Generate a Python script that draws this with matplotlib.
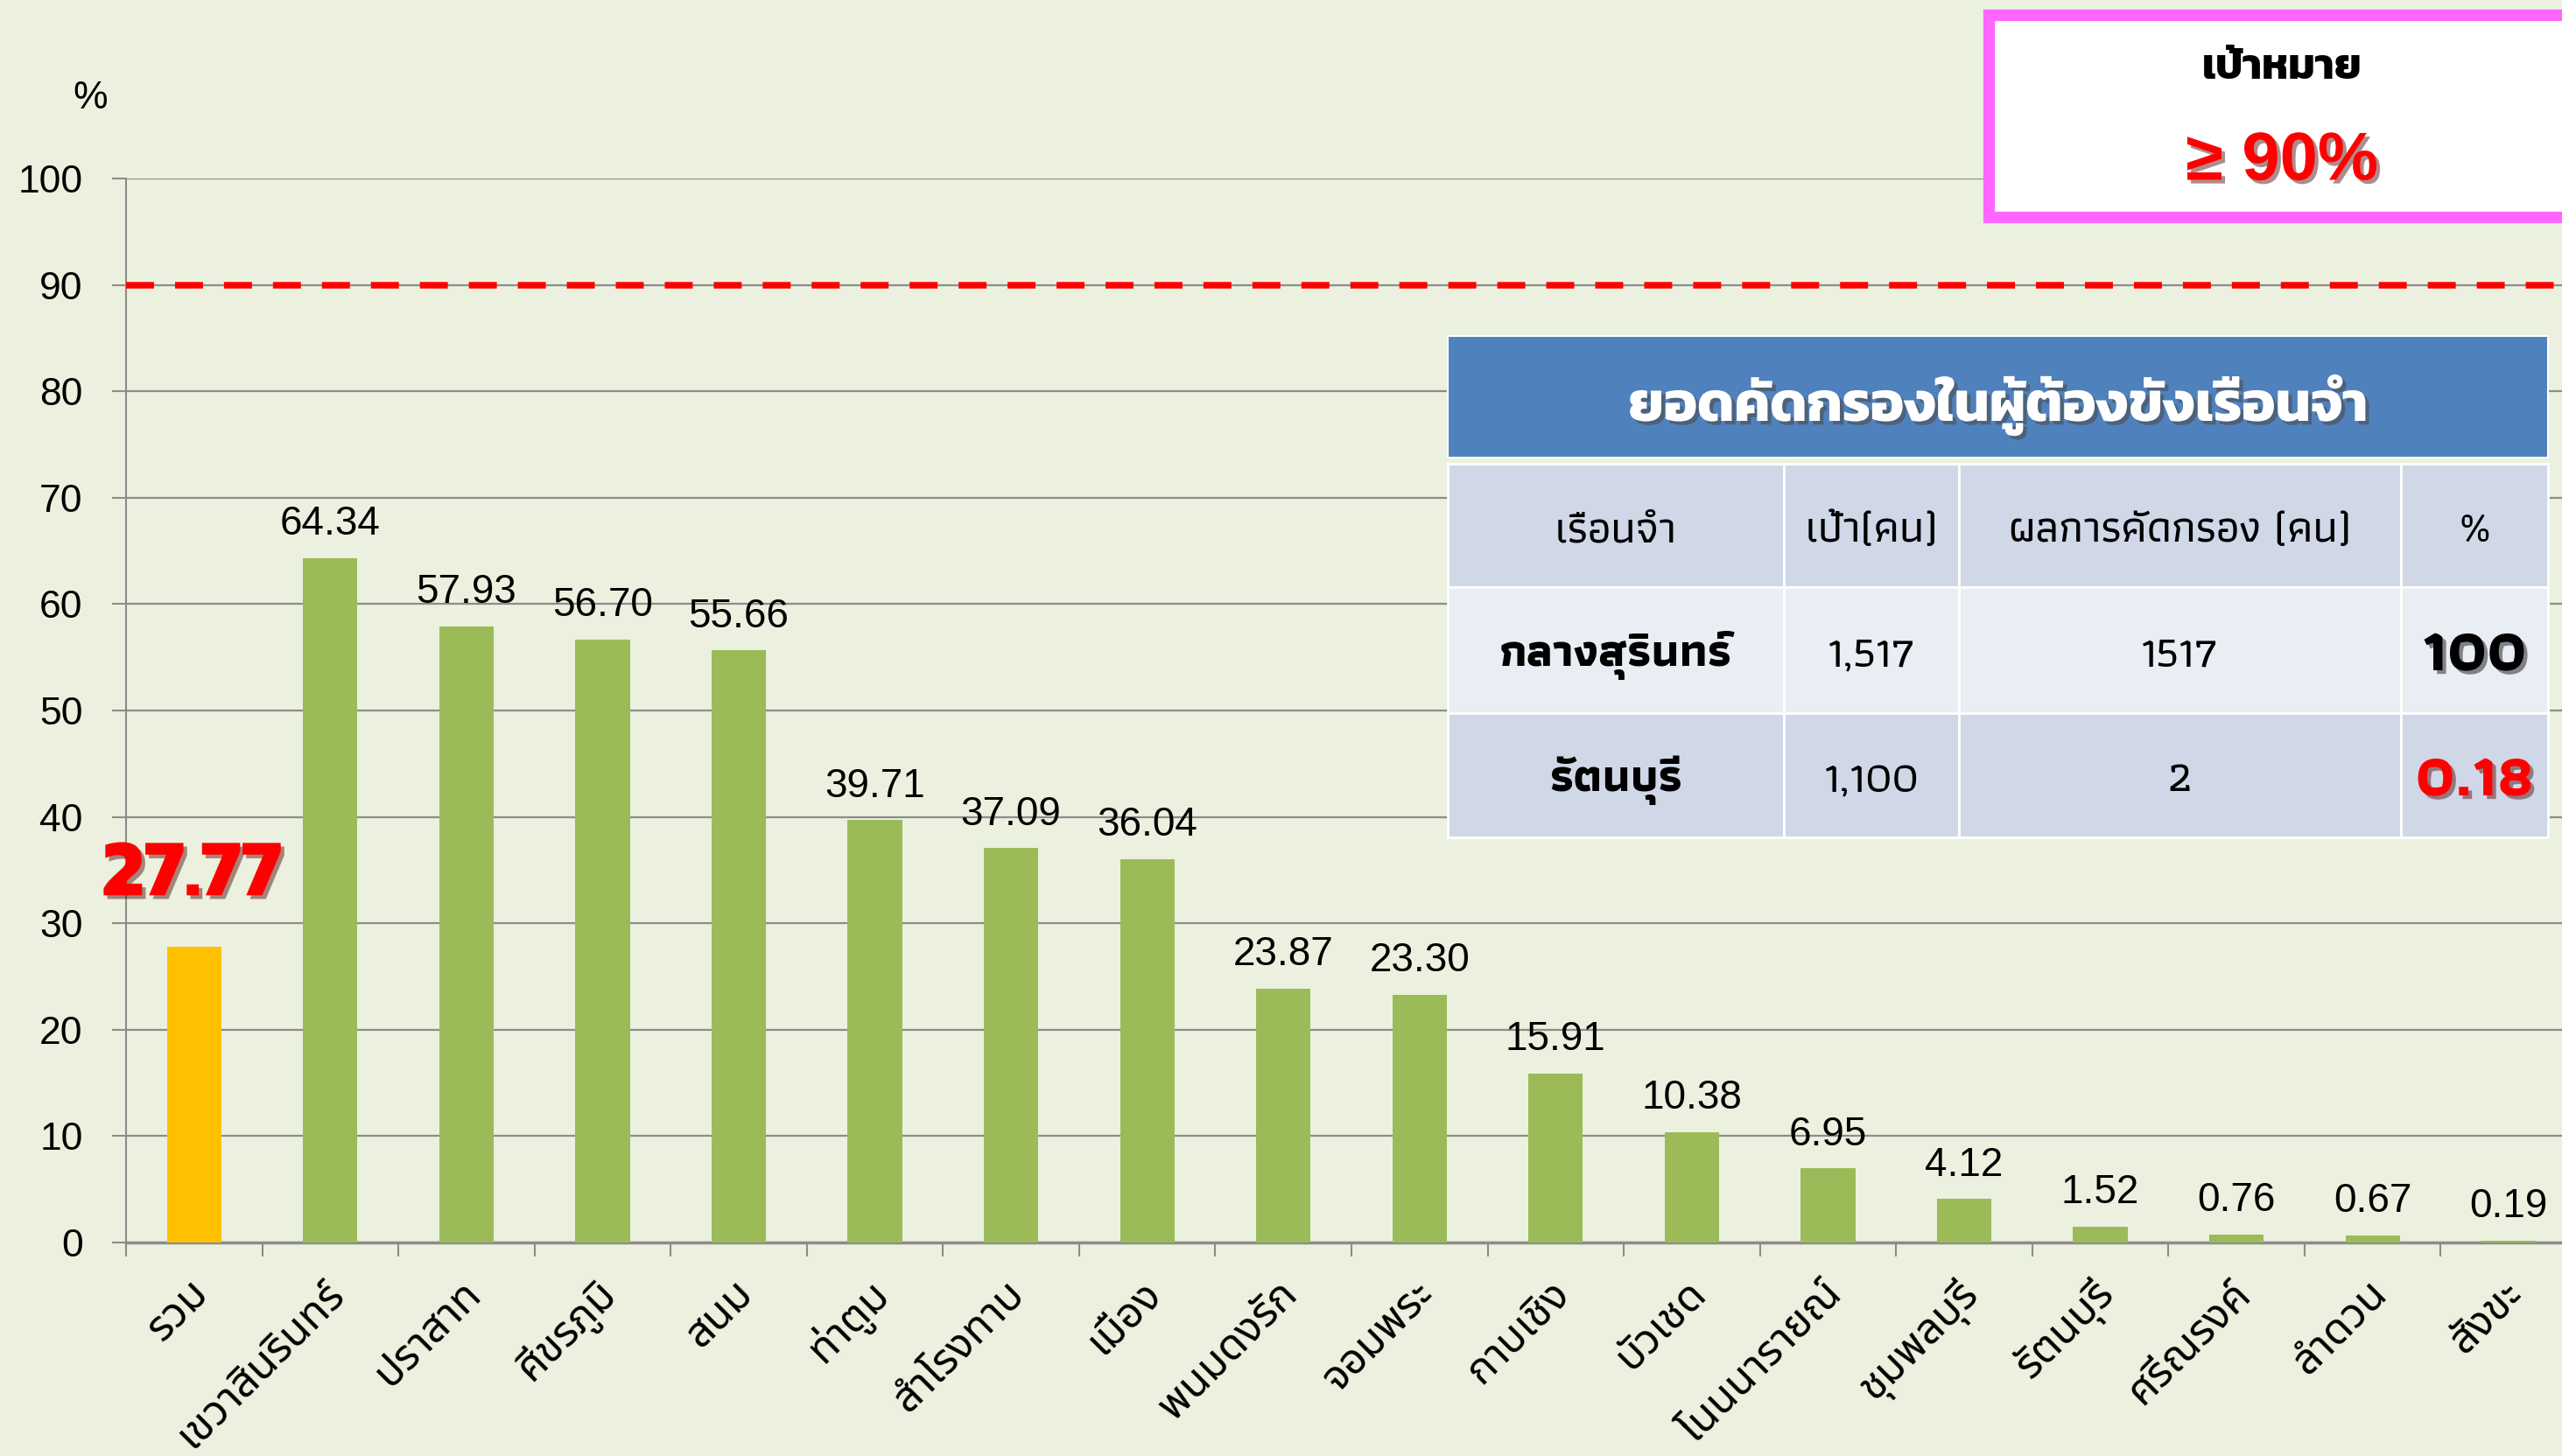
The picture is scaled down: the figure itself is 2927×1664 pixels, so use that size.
import matplotlib
matplotlib.use("Agg")
import numpy as np
import matplotlib.pyplot as plt
import matplotlib.patheffects as pe
import matplotlib.transforms as mtrans
from matplotlib.patches import Rectangle

# data
categories = ['รวม', 'เขวาสินรินทร์', 'ปราสาท', 'ศีขรภูมิ', 'สนม', 'ท่าตูม',
              'สำโรงทาบ', 'เมือง', 'พนมดงรัก', 'จอมพระ', 'กาบเชิง', 'บัวเชด',
              'โนนนารายณ์', 'ชุมพลบุรี', 'รัตนบุรี', 'ศรีณรงค์', 'ลำดวน', 'สังขะ']
values = [27.77, 64.34, 57.93, 56.70, 55.66, 39.71, 37.09, 36.04, 23.87,
          23.30, 15.91, 10.38, 6.95, 4.12, 1.52, 0.76, 0.67, 0.19]
target = 90
yticks = list(range(0, 101, 10))

table_title = 'ยอดคัดกรองในผู้ต้องขังเรือนจำ'
table_header = ['เรือนจำ', 'เป้า(คน)', 'ผลการคัดกรอง (คน)', '%']
prisons = ['กลางสุรินทร์', 'รัตนบุรี']
prison_target = ['1,517', '1,100']
prison_screened = ['1517', '2']
prison_pct = ['100', '0.18']

target_title = 'เป้าหมาย'
target_text = '≥ 90%'

# style
bg = '#EBF1DE'
green = '#9BBB59'
yellow = '#FFC000'
grey = '#8C8C8C'
latin = ['Liberation Sans', 'DejaVu Sans']
thai = ['Noto Sans Thai', 'Prompt', 'DejaVu Sans']
tfont = ['Athiti', 'DejaVu Sans']
plt.rcParams['font.family'] = latin

W, H = 2927, 1664
fig = plt.figure(figsize=(W / 100, H / 100), dpi=100, facecolor=bg)

ax = fig.add_axes([144 / W, 1 - 1420 / H, 2800 / W, (1420 - 204) / H])
ax.set_facecolor(bg)
x = np.arange(len(categories))
colors = [yellow] + [green] * (len(categories) - 1)
ax.bar(x, values, width=0.4, color=colors, zorder=3)
ax.set_xlim(-0.5, len(categories) - 0.5)
ax.set_ylim(0, 100)

ax.set_yticks(yticks)
ax.yaxis.grid(True, color=grey, lw=1.6, zorder=0)
ax.set_axisbelow(True)
ax.tick_params(axis='y', length=11.5, width=1.5, color=grey, labelsize=32, pad=24)

ax.set_xticks(x)
ax.set_xticklabels(categories, rotation=45, ha='right', va='center',
                   rotation_mode='anchor', fontsize=35, family=thai)
ax.tick_params(axis='x', which='major', length=0, pad=37)
ax.set_xticks(np.arange(-0.5, len(categories), 1), minor=True)
ax.tick_params(axis='x', which='minor', length=11.5, width=1.5, color=grey)
off = mtrans.ScaledTranslation(9 / 100, 0, fig.dpi_scale_trans)
for lab in ax.get_xticklabels():
    lab.set_transform(lab.get_transform() + off)

for s in ['top', 'right']:
    ax.spines[s].set_visible(False)
ax.spines['left'].set_color(grey)
ax.spines['left'].set_linewidth(1.5)
ax.spines['bottom'].set_color(grey)
ax.spines['bottom'].set_linewidth(2.5)

ax.axhline(target, color='#FF0000', lw=5.4, dashes=(4.26, 3.2), zorder=4)

shadow = [pe.SimplePatchShadow(offset=(3, -3), alpha=0.45), pe.Normal()]

for i, v in enumerate(values):
    if i == 0:
        ax.annotate(f'{v:.2f}', (i, v), xytext=(-2, 58), textcoords='offset points',
                    ha='center', va='center', fontsize=67, fontweight='bold',
                    family=['Kanit', 'DejaVu Sans'], color='#FF0000',
                    path_effects=shadow, zorder=5)
    else:
        ax.annotate(f'{v:.2f}', (i, v), xytext=(0, 19), textcoords='offset points',
                    ha='center', va='baseline', fontsize=33, zorder=5)

fig.text(103 / W, 1 - 112 / H, '%', ha='center', va='center', fontsize=32)

# overlay in pixel coordinates for the boxes
ov = fig.add_axes([0, 0, 1, 1])
ov.set_xlim(0, W)
ov.set_ylim(H, 0)
ov.axis('off')

ov.add_patch(Rectangle((2272, 17), 800, 231, facecolor='white', edgecolor='#FF66FF',
                       lw=9.5, clip_on=False))
ov.text(2607, 78, target_title, ha='center', va='center', fontsize=35,
        fontweight='bold', family=['Kanit', 'DejaVu Sans'])
ov.text(2607, 185, target_text, ha='center', va='center', fontsize=56,
        fontweight='bold', color='#FF0000', path_effects=shadow)

# table
cx = [1654, 2038, 2238, 2743, 2911]
ry = [530, 671, 815, 957]
ov.add_patch(Rectangle((cx[0], 384), cx[-1] - cx[0], 523 - 384, facecolor='#4F81BD',
                       edgecolor='white', lw=1.5))
ov.text((cx[0] + cx[-1]) / 2, 463, table_title, ha='center', va='center', fontsize=46,
        fontweight='bold', color='white', family=['Kanit', 'DejaVu Sans'],
        path_effects=[pe.SimplePatchShadow(offset=(3, -3), alpha=0.6), pe.Normal()])

rows = [table_header,
        [prisons[0], prison_target[0], prison_screened[0], prison_pct[0]],
        [prisons[1], prison_target[1], prison_screened[1], prison_pct[1]]]
row_colors = ['#D0D8E8', '#E9EDF4', '#D0D8E8']
for r, row in enumerate(rows):
    y0, y1 = ry[r], ry[r + 1]
    for c, txt in enumerate(row):
        ov.add_patch(Rectangle((cx[c], y0), cx[c + 1] - cx[c], y1 - y0,
                               facecolor=row_colors[r], edgecolor='white', lw=2))
        kw = dict(ha='center', va='center', family=tfont, fontsize=36,
                  fontweight='medium', color='black')
        if r > 0 and c == 0:
            kw.update(fontweight='bold', fontsize=38)
        if r > 0 and c == 3:
            kw.update(fontweight='bold', fontsize=50, path_effects=shadow)
            if r == 2:
                kw.update(color='#FF0000')
        ov.text((cx[c] + cx[c + 1]) / 2, (y0 + y1) / 2 + 6, txt, **kw)

fig.savefig('out.png', dpi=100, facecolor=bg)
